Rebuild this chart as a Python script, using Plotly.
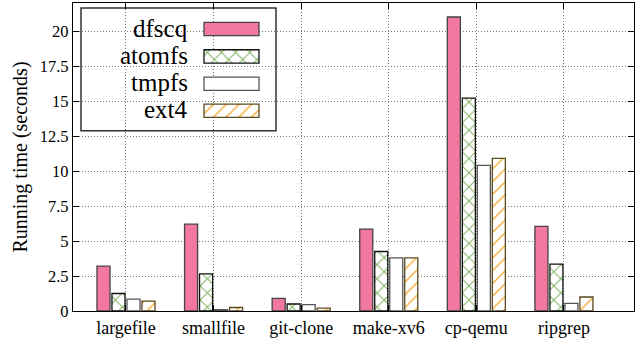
import plotly.graph_objects as go

categories = ["largefile", "smallfile", "git-clone", "make-xv6", "cp-qemu", "ripgrep"]
series_names = ["dfscq", "atomfs", "tmpfs", "ext4"]
dfscq = [3.2, 6.2, 0.9, 5.85, 21.0, 6.05]
atomfs = [1.25, 2.65, 0.5, 4.25, 15.2, 3.35]
tmpfs = [0.85, 0.1, 0.45, 3.8, 10.4, 0.55]
ext4 = [0.7, 0.25, 0.2, 3.8, 10.9, 1.0]
y_ticks = [0, 2.5, 5, 7.5, 10, 12.5, 15, 17.5, 20]
y_tick_labels = ["0", "2.5", "5", "7.5", "10", "12.5", "15", "17.5", "20"]

values = [dfscq, atomfs, tmpfs, ext4]
PINK = "#f2789f"
GREEN = "#7ab05a"
ORANGE = "#f5a623"
styles = [
    dict(color=PINK, line=dict(color="#444", width=1.3)),
    dict(color="white", line=dict(color="#111", width=1.3),
         pattern=dict(shape="x", fgcolor=GREEN, bgcolor="white", fgopacity=1, size=10, solidity=0.18, fillmode="overlay")),
    dict(color="white", line=dict(color="#555", width=1.3)),
    dict(color="white", line=dict(color="#5a4a20", width=1.3),
         pattern=dict(shape="/", fgcolor=ORANGE, bgcolor="white", fgopacity=1, size=9, solidity=0.14, fillmode="overlay")),
]

FONT = "Liberation Serif"
fig = go.Figure()
for name, vals, st in zip(series_names, values, styles):
    fig.add_trace(go.Bar(x=categories, y=vals, name=name, marker=st, showlegend=False))

# custom legend (text left, sample right), gnuplot style
PW, PH = 561.0, 308.0
sample_x0, sample_w = 131, 55
row_centers = [282, 254.6, 227.3, 200.3]
for name, st, yc in zip(series_names, styles, row_centers):
    fig.add_trace(go.Bar(x=[sample_w], y=[yc], base=[sample_x0], orientation="h", width=13.3,
                         marker=st, xaxis="x2", yaxis="y2", showlegend=False, hoverinfo="skip"))
    fig.add_annotation(x=(190 - 73) / PW, y=(yc + 1) / PH, xref="paper", yref="paper", text=name,
                       showarrow=False, xanchor="right", yanchor="middle",
                       font=dict(family=FONT, size=25, color="black"))
fig.add_shape(type="rect", xref="paper", yref="paper",
              x0=(81 - 73) / PW, x1=(276 - 73) / PW, y0=(311.3 - 131) / PH, y1=(311.3 - 8.3) / PH,
              line=dict(color="#333", width=1.5), fillcolor="white", layer="below")

fig.update_layout(
    width=637, height=339,
    margin=dict(l=73, r=3, t=3, b=28, autoexpand=False),
    paper_bgcolor="white", plot_bgcolor="white",
    barmode="group", bargap=0.315, bargroupgap=0.13,
    font=dict(family=FONT, size=16, color="black"),
    xaxis=dict(range=[-0.605, 5.8], showgrid=True, gridcolor="#777", griddash="1px,2px", gridwidth=1,
               showline=True, linecolor="black", linewidth=1.3, mirror="ticks",
               ticks="inside", ticklen=6, tickcolor="black", tickfont=dict(family=FONT, size=18)),
    yaxis=dict(range=[0, 22], tickvals=y_ticks, ticktext=y_tick_labels,
               showgrid=True, gridcolor="#777", griddash="1px,2px", gridwidth=1,
               showline=True, linecolor="black", linewidth=1.3, mirror="ticks",
               ticks="inside", ticklen=6, tickcolor="black", zeroline=False,
               tickfont=dict(family=FONT, size=16.5),
               title=dict(text="Running time (seconds)", font=dict(family=FONT, size=20), standoff=6)),
    xaxis2=dict(range=[0, PW], domain=[0, 1], overlaying="x", visible=False, fixedrange=True),
    yaxis2=dict(range=[0, PH], domain=[0, 1], overlaying="y", visible=False, fixedrange=True),
)

fig.write_html("out.html", post_script="document.body.style.margin='0';",
               config={"displayModeBar": False})
